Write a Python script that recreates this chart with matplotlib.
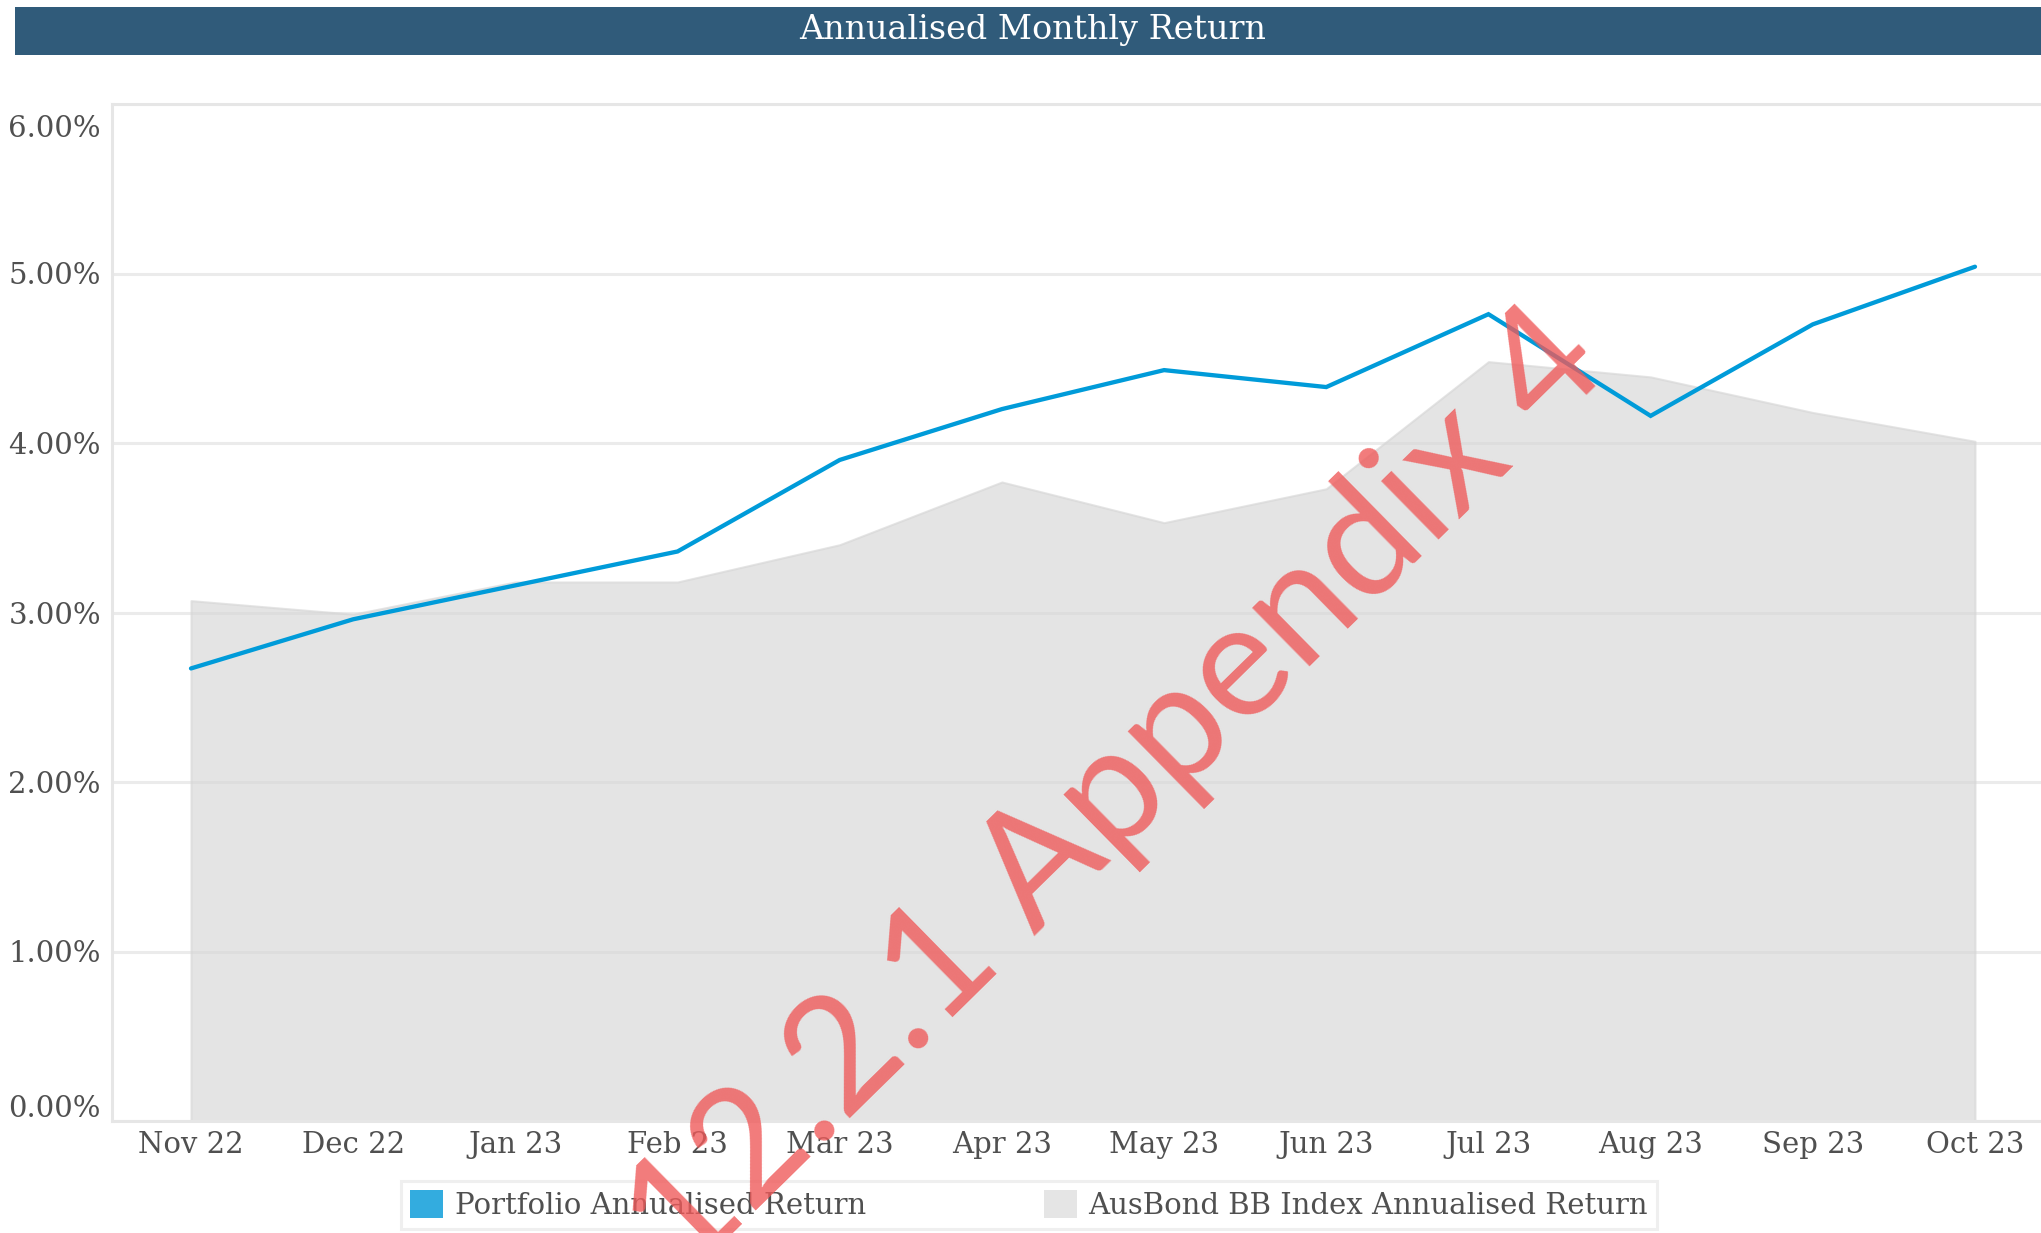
import matplotlib
matplotlib.use("Agg")
import matplotlib.pyplot as plt
import matplotlib.transforms as mtransforms
from matplotlib.patches import Patch, Rectangle

months = ["Nov 22", "Dec 22", "Jan 23", "Feb 23", "Mar 23", "Apr 23",
          "May 23", "Jun 23", "Jul 23", "Aug 23", "Sep 23", "Oct 23"]
portfolio = [2.67, 2.96, 3.16, 3.36, 3.90, 4.20, 4.43, 4.33, 4.76, 4.16, 4.70, 5.04]
benchmark = [3.07, 2.99, 3.18, 3.18, 3.40, 3.77, 3.53, 3.73, 4.48, 4.39, 4.18, 4.01]
yticks = [0, 1, 2, 3, 4, 5, 6]
ytick_labels = ["0.00%", "1.00%", "2.00%", "3.00%", "4.00%", "5.00%", "6.00%"]
title = "Annualised Monthly Return"
legend_labels = ["Portfolio Annualised Return", "AusBond BB Index Annualised Return"]
watermark = "12.2.1 Appendix 4"

W, H = 2041, 1233
fig = plt.figure(figsize=(W / 100, H / 100), dpi=100)
fig.patch.set_facecolor("white")

TXT = "#505050"
SERIF = "DejaVu Serif"

# title bar
fig.patches.append(Rectangle((15 / W, 1 - 55 / H), 1 - 15 / W, 48.5 / H,
                             transform=fig.transFigure, facecolor="#305b7a",
                             edgecolor="none", zorder=0))
fig.text(1033 / W, 1 - 30 / H, title, color="white", fontsize=24,
         family=SERIF, ha="center", va="center")

ax = fig.add_axes([112 / W, 1 - 1121 / H, (W - 112) / W, (1121 - 104) / H])
x = list(range(len(months)))
ax.set_xlim((112 - 191) / 162.18, (W - 191) / 162.18)
ax.set_ylim(0, 6)

ax.set_yticks(yticks)
ax.set_yticklabels(ytick_labels)
ax.set_xticks(x)
ax.set_xticklabels(months)
ax.tick_params(axis="both", length=0, labelsize=21, labelcolor=TXT)
ax.tick_params(axis="y", pad=8)
ax.tick_params(axis="x", pad=7)
for lab in ax.get_xticklabels() + ax.get_yticklabels():
    lab.set_family(SERIF)

ax.grid(axis="y", color="#ebebeb", linewidth=2.2, zorder=0)
ax.set_axisbelow(True)
for side in ["left", "top", "bottom"]:
    ax.spines[side].set_color("#e6e6e6")
    ax.spines[side].set_linewidth(2.2)
ax.spines["right"].set_visible(False)

ax.fill_between(x, benchmark, 0, facecolor="#d6d6d6", alpha=0.65,
                edgecolor="#d6d6d6", linewidth=1.5, zorder=2)
ax.plot(x, portfolio, color="#009bd9", linewidth=3.1, zorder=3,
        solid_capstyle="round", solid_joinstyle="miter")

# shift first/last y labels like the reference
ylabs = ax.get_yticklabels()
ylabs[0].set_transform(ylabs[0].get_transform() +
                       mtransforms.ScaledTranslation(0, 15 / 100, fig.dpi_scale_trans))
ylabs[-1].set_transform(ylabs[-1].get_transform() +
                        mtransforms.ScaledTranslation(0, -22 / 100, fig.dpi_scale_trans))

handles = [Patch(facecolor="#33acdf", edgecolor="none"),
           Patch(facecolor="#e5e5e5", edgecolor="none")]
leg = fig.legend(handles, legend_labels, loc="center", ncol=2,
                 bbox_to_anchor=(1029 / W, 1 - 1205 / H),
                 prop={"family": SERIF, "size": 21},
                 handlelength=1.13, handleheight=1.1, handletextpad=0.4,
                 columnspacing=6.1, borderpad=0.3, frameon=True, fancybox=False)
leg.get_frame().set_edgecolor("#ebebeb")
leg.get_frame().set_linewidth(2.2)
for t in leg.get_texts():
    t.set_color(TXT)

fig.text(1116 / W, 1 - 793 / H, watermark, rotation=44.5, rotation_mode="anchor",
         ha="center", va="center", fontsize=116, family=["Lato", "DejaVu Sans"],
         color="#ef5a5a", alpha=0.8, zorder=10)

fig.savefig("out.png", dpi=100, facecolor="white")
